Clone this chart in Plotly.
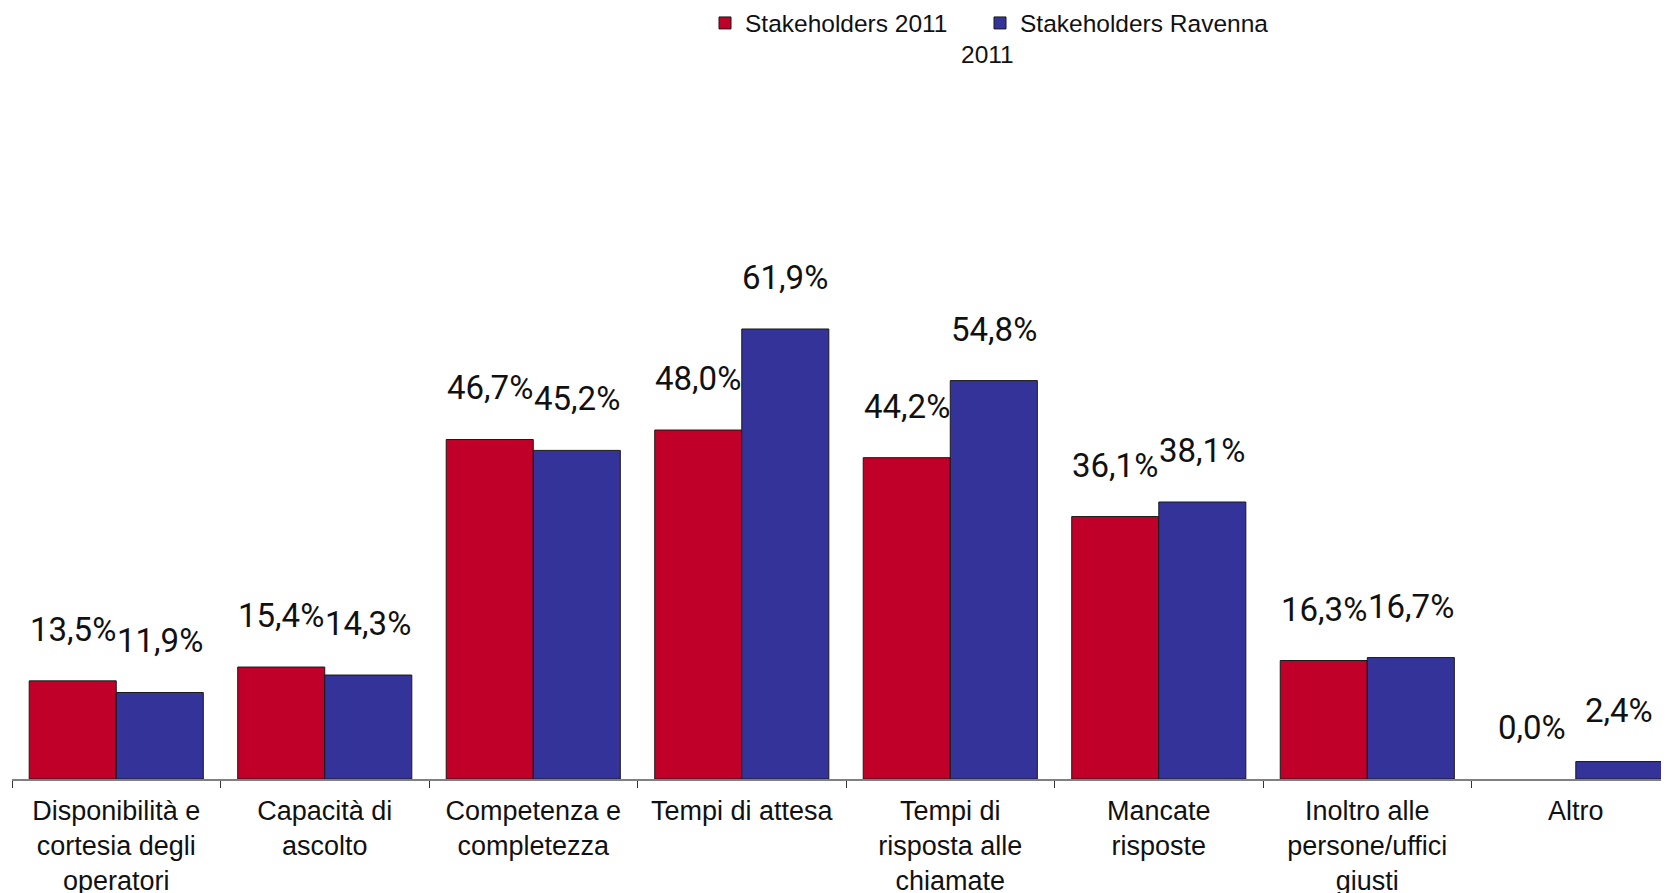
import plotly.graph_objects as go

categories = [
    "Disponibilità e<br>cortesia degli<br>operatori",
    "Capacità di<br>ascolto",
    "Competenza e<br>completezza",
    "Tempi di attesa",
    "Tempi di<br>risposta alle<br>chiamate",
    "Mancate<br>risposte",
    "Inoltro alle<br>persone/uffici<br>giusti",
    "Altro",
]
stakeholders_2011 = [13.5, 15.4, 46.7, 48.0, 44.2, 36.1, 16.3, 0.0]
stakeholders_ravenna = [11.9, 14.3, 45.2, 61.9, 54.8, 38.1, 16.7, 2.4]

red = '#C00028'
blue = '#333399'
label_font = dict(family="Roboto, Liberation Sans, Arial", size=33, color="#111111")
legend_font = dict(family="Liberation Sans, Arial", size=24.5, color="#111111")

# the page body adds an 8px margin, so the figure is 8px smaller
W, H = 1661, 885
L, T, B = 4, 72, 114
plot_w, plot_h = W - L, H - T - B


def fmt(v):
    return f"{v:.1f}%".replace(".", ",")


def outline(values):
    # empty bars get no outline so they don't darken the axis
    return [0 if v == 0 else 1 for v in values]


fig = go.Figure()
fig.add_trace(go.Bar(
    x=categories, y=stakeholders_2011, name="Stakeholders 2011",
    marker=dict(color=red, line=dict(color="#1a1a1a", width=outline(stakeholders_2011))),
    legend="legend",
))
fig.add_trace(go.Bar(
    x=categories, y=stakeholders_ravenna, name="Stakeholders Ravenna",
    marker=dict(color=blue, line=dict(color="#1a1a1a", width=outline(stakeholders_ravenna))),
    legend="legend2",
))

# value labels sit well above each bar, like the original export
half_bar = 43.5
for cat, a, b in zip(categories, stakeholders_2011, stakeholders_ravenna):
    for val, shift in ((a, -half_bar), (b, half_bar)):
        fig.add_annotation(
            x=cat, y=val, text=fmt(val), showarrow=False,
            xshift=shift, yshift=30, yanchor="bottom",
            font=label_font,
        )

# wrapped second line of the second legend entry
fig.add_annotation(
    xref="paper", yref="paper", x=(979 - L) / plot_w, y=1,
    yshift=T - 46, text="2011", showarrow=False, yanchor="middle",
    font=legend_font,
)

fig.update_layout(
    width=W, height=H,
    template="plotly_white",
    plot_bgcolor="white", paper_bgcolor="white",
    barmode="group", bargap=0.165, bargroupgap=0,
    margin=dict(l=L, r=0, t=T, b=B, autoexpand=False),
    showlegend=True,
    legend=dict(
        orientation="h", x=(697 - L) / plot_w, xanchor="left",
        y=1 + (T - 15) / plot_h, yanchor="middle", font=legend_font,
    ),
    legend2=dict(
        orientation="h", x=(972 - L) / plot_w, xanchor="left",
        y=1 + (T - 15) / plot_h, yanchor="middle", font=legend_font,
    ),
    font=dict(family="Liberation Sans, Arial", color="#111111"),
)
fig.update_xaxes(
    range=[-0.5, 7.447], automargin=False,
    showline=True, linecolor="#808080", linewidth=1.5,
    ticks="outside", tickson="boundaries", ticklen=7, tickcolor="#333333",
    showgrid=False, tickangle=0, ticklabelstandoff=7,
    tickfont=dict(family="Liberation Sans, Arial", size=27, color="#111111"),
)
fig.update_yaxes(range=[0, plot_h / 7.27], visible=False, showgrid=False,
                 automargin=False)

fig.write_html("out.html")
